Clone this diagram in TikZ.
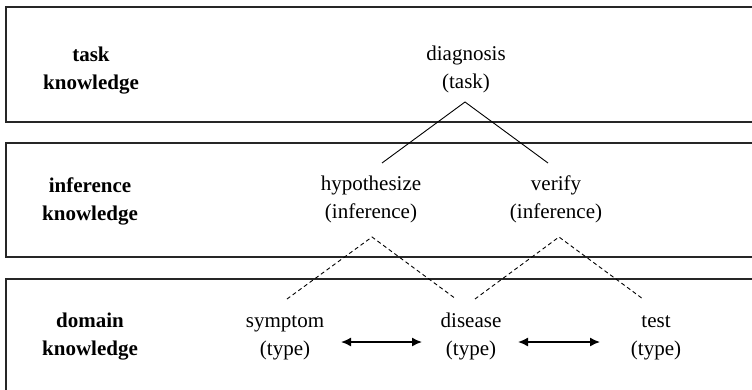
\documentclass[tikz,border=0pt]{standalone}
\usepackage{fontspec}
\setmainfont{Liberation Serif}
\usetikzlibrary{arrows.meta}
\begin{document}
\begin{tikzpicture}[x=1pt,y=-1pt,
  layerbox/.style={draw=black!85,line width=1.6pt},
  lbl/.style={inner sep=0pt,align=center,font=\fontsize{21}{28}\selectfont\bfseries},
  item/.style={inner sep=0pt,align=center,font=\fontsize{21}{28}\selectfont},
  link/.style={line width=0.9pt},
  dlink/.style={line width=0.9pt,dash pattern=on 4pt off 3pt},
  rel/.style={line width=1.5pt,{Latex[length=10pt,width=9pt]}-{Latex[length=10pt,width=9pt]}}]
\clip (0,0) rectangle (752,389);
\fill[white] (0,0) rectangle (752,389);
% layer boxes
\draw[layerbox] (6,7) rectangle (800,122);
\draw[layerbox] (6,143) rectangle (800,257);
\draw[layerbox] (6,279) rectangle (800,430);
% labels
\node[lbl] (lt) at (91,69.5) {\strut task\\\strut knowledge};
\node[lbl] (li) at (90,201) {\strut inference\\\strut knowledge};
\node[lbl] (ld) at (90,336) {\strut domain\\\strut knowledge};
% items
\node[item] (diag) at (466,68.5) {\strut diagnosis\\\strut (task)};
\node[item] (hyp) at (371,198.5) {\strut hypothesize\\\strut (inference)};
\node[item] (ver) at (556,198.5) {\strut verify\\\strut (inference)};
\node[item] (sym) at (285,336) {\strut symptom\\\strut (type)};
\node[item] (dis) at (471,336) {\strut disease\\\strut (type)};
\node[item] (tst) at (656,336) {\strut test\\\strut (type)};
% connector end points
\coordinate (diagB) at (465,102);
\coordinate (hypT) at (382,163);
\coordinate (verT) at (548,163);
\coordinate (hypB) at (372,237);
\coordinate (verB) at (559,237);
\coordinate (symT) at (287,299);
\coordinate (disTl) at (456,299);
\coordinate (disTr) at (475,299);
\coordinate (tstT) at (643,299);
\coordinate (a1l) at (341,342);
\coordinate (a1r) at (422,342);
\coordinate (a2l) at (518,342);
\coordinate (a2r) at (600,342);
% task decomposition
\draw[link] (hypT) -- (diagB) -- (verT);
% inference to domain
\draw[dlink] (symT) -- (hypB) -- (disTl);
\draw[dlink] (disTr) -- (verB) -- (tstT);
% relations
\draw[rel] (a1l) -- (a1r);
\draw[rel] (a2l) -- (a2r);
\end{tikzpicture}
\end{document}
